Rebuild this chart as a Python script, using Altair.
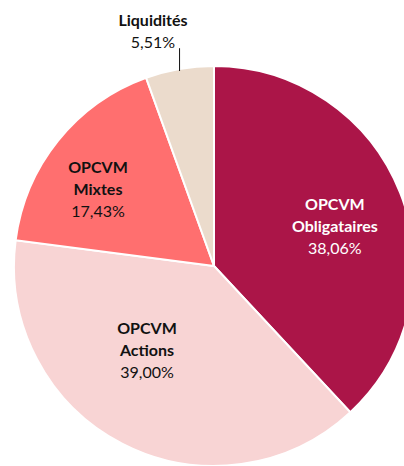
import math
import altair as alt
import pandas as pd

# ---- data ----
categories = ["OPCVM Obligataires", "OPCVM Actions", "OPCVM Mixtes", "Liquidités"]
label_line1 = ["OPCVM", "OPCVM", "OPCVM", ""]
label_line2 = ["Obligataires", "Actions", "Mixtes", "Liquidités"]
values = [38.06, 39.00, 17.43, 5.51]
pct_labels = ["38,06%", "39,00%", "17,43%", "5,51%"]

# ---- style ----
colors = ["#AB1548", "#F8D4D4", "#FF6F6F", "#EBDBCC"]
text_colors = ["#FFFFFF", "#111111", "#111111", "#111111"]
CX, CY, R = 214, 266, 200
LH = 22
# label placement tweaks: (angle offset in degrees from slice middle, radius in px)
label_place = [(13.5, 122), (4.9, 126), (-13.8, 128), (-5.4, 231)]
FONT = "Lato"
FS = 16

total = sum(values)
cum = 0
rows = []
for i in range(len(categories)):
    v = values[i]
    mid = (cum + v / 2) / total * 360
    cum += v
    da, r = label_place[i]
    rows.append({
        "cat": categories[i], "l1": label_line1[i], "l2": label_line2[i],
        "value": v, "pct": pct_labels[i], "order": i,
        "lt": math.radians(mid + da), "lr": r, "tc": text_colors[i], "mid": mid,
    })
df = pd.DataFrame(rows)

base = alt.Chart(df)

arcs = base.mark_arc(stroke="white", strokeWidth=2).encode(
    theta=alt.Theta("value:Q", stack=True),
    order=alt.Order("order:Q"),
    color=alt.Color("cat:N", scale=alt.Scale(domain=categories, range=colors), legend=None),
    radius=alt.value(R),
    x=alt.value(CX),
    y=alt.value(CY),
)


def text_layer(field, dy, bold):
    kw = dict(font=FONT, fontSize=FS, baseline="middle", dy=dy)
    if bold:
        kw["fontWeight"] = "bold"
    return base.mark_text(**kw).encode(
        text=f"{field}:N",
        theta=alt.Theta("lt:Q", scale=None),
        radius=alt.Radius("lr:Q", scale=None),
        color=alt.Color("tc:N", scale=None),
        x=alt.value(CX), y=alt.value(CY),
    )


t1 = text_layer("l1", -2 * LH, True)
t2 = text_layer("l2", -LH, True)
t3 = text_layer("pct", 0, False)

# leader line for the small slice
liq = rows[3]
liq_mid = math.radians(liq["mid"])
lx = CX + R * math.sin(liq_mid)
ly = CY - R * math.cos(liq_mid)
label_y = CY - liq["lr"] * math.cos(liq["lt"])
leader = alt.Chart(pd.DataFrame({"a": [0]})).mark_rule(color="#111111", strokeWidth=1).encode(
    x=alt.value(lx), y=alt.value(ly + 2), y2=alt.value(label_y + 5)
)

chart = alt.layer(arcs, leader, t1, t2, t3).properties(
    width=404, height=466, padding=0, autosize=alt.AutoSizeParams(type="none")
).configure_view(stroke=None)

chart.save("out.html", embed_options={"renderer": "svg", "actions": False})
